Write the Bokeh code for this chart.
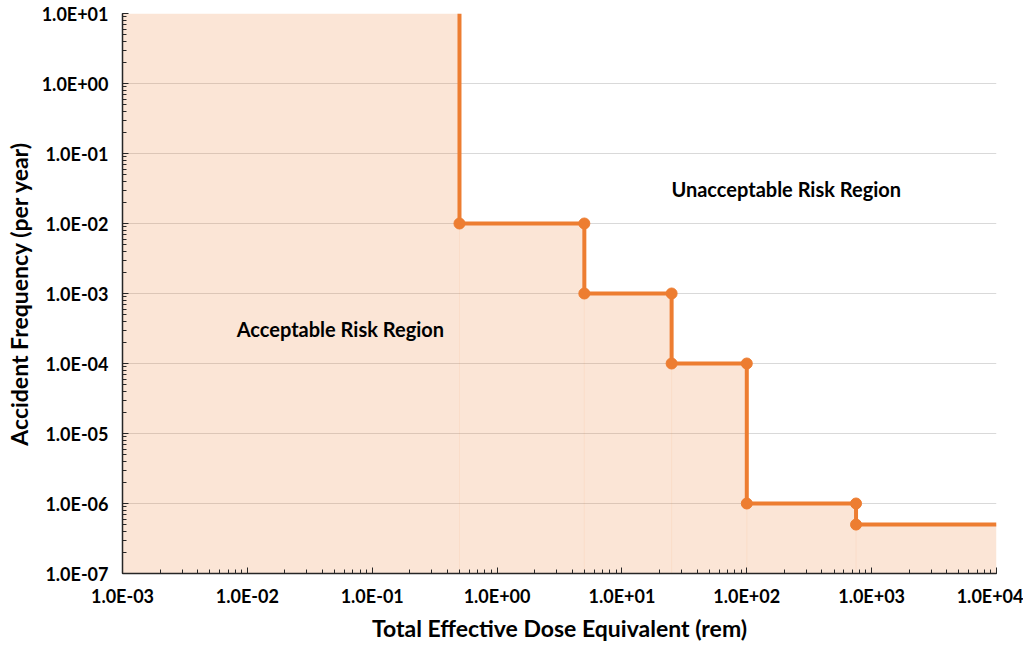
from bokeh.plotting import figure
from bokeh.models import CustomJSTickFormatter, Label
from bokeh.embed import file_html
from bokeh.resources import INLINE

# Data
step_x = [0.5, 0.5, 5, 5, 25, 25, 100, 100, 750, 750, 10000]
step_y = [10, 1e-2, 1e-2, 1e-3, 1e-3, 1e-4, 1e-4, 1e-6, 1e-6, 5e-7, 5e-7]
marker_x = step_x[1:10]
marker_y = step_y[1:10]
x_range = (1e-3, 1e4)
y_range = (1e-7, 1e1)

ORANGE = "#ED7D31"
FONT = "Lato"

p = figure(frame_width=874, frame_height=560, x_axis_type="log", y_axis_type="log",
           x_range=x_range, y_range=y_range, output_backend="svg",
           toolbar_location=None, min_border_left=122, min_border_right=27,
           min_border_top=13, min_border_bottom=10)
p.outline_line_color = None
p.background_fill_color = "white"

# Fill under step curve (acceptable region)
fill_x = [x_range[0]] + step_x + [x_range[1], x_range[0]]
fill_y = [y_range[1]] + step_y + [y_range[0], y_range[0]]
p.patch(fill_x, fill_y, fill_color=ORANGE, fill_alpha=0.2, line_color=None)

# faint vertical seams in the fill at the step positions
seam_x = sorted(set(step_x[:-1]))
p.segment(x0=seam_x, y0=[y_range[0]] * len(seam_x), x1=seam_x,
          y1=[step_y[step_x.index(v) + 1] for v in seam_x],
          line_color=ORANGE, line_alpha=0.07, line_width=1)

p.line(step_x, step_y, line_color=ORANGE, line_width=4)
p.scatter(marker_x, marker_y, size=11, fill_color=ORANGE, line_color=ORANGE)

p.add_layout(Label(x=207, y=0.0306, text="Unacceptable Risk Region", text_align="center",
                   text_baseline="middle", text_font=FONT, text_font_style="bold",
                   text_font_size="20px", text_color="black"))
p.add_layout(Label(x=0.0556, y=3.06e-4, text="Acceptable Risk Region", text_align="center",
                   text_baseline="middle", text_font=FONT, text_font_style="bold",
                   text_font_size="20px", text_color="black"))

fmt = CustomJSTickFormatter(code="""
const e = Math.round(Math.log10(tick));
const s = e < 0 ? '-' : '+';
return '1.0E' + s + String(Math.abs(e)).padStart(2, '0');
""")

for ax in (p.xaxis[0], p.yaxis[0]):
    ax.formatter = fmt
    ax.major_label_text_font = FONT
    ax.major_label_text_font_style = "bold"
    ax.major_label_text_font_size = "18px"
    ax.major_label_text_color = "black"
    ax.axis_label_text_font = FONT
    ax.axis_label_text_font_style = "bold"
    ax.axis_label_text_font_size = "23px"
    ax.axis_label_text_color = "black"
    ax.axis_line_color = "#262626"
    ax.axis_line_width = 1.5
    ax.major_tick_line_color = "#262626"
    ax.minor_tick_line_color = "#262626"
    ax.major_tick_in = 6
    ax.major_tick_out = 0
    ax.minor_tick_in = 4
    ax.minor_tick_out = 0

p.xaxis.axis_label = "Total Effective Dose Equivalent (rem)"
p.yaxis.axis_label = "Accident Frequency (per year)"
p.xaxis.major_label_standoff = 11
p.xaxis.axis_label_standoff = 4
p.yaxis.major_label_standoff = 14
p.yaxis.axis_label_standoff = 6
p.xaxis.ticker.desired_num_ticks = 8
p.yaxis.ticker.desired_num_ticks = 9

p.xgrid.grid_line_color = None
p.ygrid.grid_line_color = "#D9D9D9"
p.ygrid.grid_line_width = 1.2

open("out.html", "w").write(file_html(p, INLINE))
